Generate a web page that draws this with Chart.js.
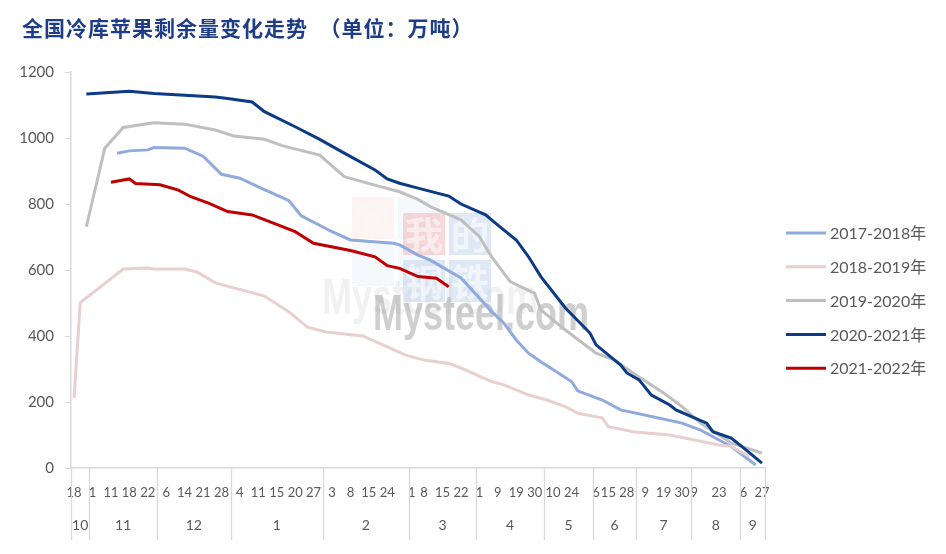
<!DOCTYPE html>
<html><head><meta charset="utf-8">
<script src="https://cdn.jsdelivr.net/npm/chart.js@4.4.1/dist/chart.umd.min.js"></script>
<style>html,body{margin:0;padding:0;background:#fff}#wrap{width:946px;height:554px;position:relative}</style>
</head><body><div id="wrap"><canvas id="c" width="946" height="554"></canvas></div>
<script>
const titleText = '全国冷库苹果剩余量变化走势  （单位：万吨）';
const monthLabels = ['10','11','12','1','2','3','4','5','6','7','8','9'];
// day tick labels per month (blank = date not shown on the axis)
const dayLabelsByMonth = [
  ['18','',''],
  ['1','','','11','','','18','','','22',''],
  ['','6','','','14','','','21','','','28',''],
  ['','4','','','11','','','15','','','20','','','27',''],
  ['','3','','','8','','','15','','','24','','',''],
  ['1','','8','','','15','','','22','',''],
  ['1','','','9','','','19','','','30',''],
  ['','10','','','24','','',''],
  ['6','','15','','','28',''],
  ['','9','','','19','','','30',''],
  ['9','','','','23','','',''],
  ['6','','','27']
];
const yTicks = [0,200,400,600,800,1000,1200];
const seriesNames = ['2017-2018年','2018-2019年','2019-2020年','2020-2021年','2021-2022年'];
// [category index, value] pairs
const s2017_2018 = [[7,954],[9,961],[12,964],[13,971],[18,969],[21,945],[24,890],[27,878],[30,852],[35,810],[37,764],[42,716],[45,691],[52,681],[53,676],[56,645],[58,630],[63,576],[68,474],[70,439],[72,388],[74,348],[76,322],[81,262],[82,234],[86,206],[89,176],[94,156],[99,136],[102,115],[107,65],[111,9]];
const s2018_2019 = [[0,212],[1,501],[8,603],[12,606],[13,603],[18,603],[20,594],[23,561],[31,521],[35,473],[38,427],[41,412],[47,400],[54,342],[57,327],[61,317],[63,303],[68,262],[70,252],[74,221],[77,206],[80,186],[82,166],[86,152],[87,125],[91,110],[97,100],[101,85],[105,70],[107,65],[110,34]];
const s2019_2020 = [[2,731],[5,969],[8,1032],[13,1046],[18,1042],[23,1024],[26,1006],[31,996],[34,976],[40,948],[44,883],[50,852],[53,837],[56,814],[58,792],[63,752],[66,701],[68,640],[71,565],[75,529],[76,479],[80,418],[85,348],[88,327],[91,288],[96,227],[99,186],[102,136],[107,76],[112,45]];
const s2020_2021 = [[2,1133],[9,1142],[13,1135],[23,1124],[25,1120],[29,1109],[31,1080],[36,1034],[40,996],[44,954],[49,903],[51,876],[53,863],[56,848],[61,824],[63,800],[67,767],[69,736],[72,691],[74,640],[76,580],[80,485],[84,409],[85,373],[89,312],[90,288],[92,267],[94,221],[97,191],[98,176],[103,136],[104,110],[107,91],[109,61],[112,15]];
const s2021_2022 = [[6,866],[9,876],[10,862],[14,858],[17,842],[19,822],[22,802],[25,777],[29,767],[36,716],[39,681],[45,659],[49,640],[51,613],[53,605],[56,580],[59,575],[61,549]];
const colors = ['#8FAADC','#E8D0D0','#BFBFBF','#0B3A86','#C00000'];

const dayLabels = [].concat(...dayLabelsByMonth);
const N = dayLabels.length;
function build(pairs){ const a = new Array(N).fill(null); pairs.forEach(p => { a[p[0]] = p[1]; }); return a; }
const allSeries = [s2017_2018, s2018_2019, s2019_2020, s2020_2021, s2021_2022];

const FONT = 'Lato, "Noto Sans CJK SC", sans-serif';
const GREY = '#D9D9D9';
const TXT = '#595959';

function drawWatermark(ctx, dx, dy, k){
  ctx.save();
  const bx = 403 + dx, by = 213 + dy, s = 42, g = 4;
  const cells = [['我','#F2B8B8',0,0],['的','#C4D6EC',1,0],['钢','#C4D6EC',0,1],['铁','#C4D6EC',1,1]];
  ctx.globalAlpha = 0.55 * k;
  cells.forEach(c => {
    const x = bx + c[2]*(s+g), y = by + c[3]*(s+g+1);
    ctx.fillStyle = c[1]; ctx.fillRect(x, y, s, s);
    ctx.fillStyle = '#ffffff';
    ctx.font = 'bold 38px "Noto Sans CJK SC"';
    ctx.textAlign = 'center'; ctx.textBaseline = 'middle';
    ctx.fillText(c[0], x + s/2, y + s/2 + 1);
  });
  ctx.globalAlpha = 0.5 * k;
  ctx.fillStyle = '#A0A0A0';
  ctx.font = 'bold 50px "Liberation Sans"';
  ctx.textAlign = 'left'; ctx.textBaseline = 'alphabetic';
  ctx.translate(373 + dx, 330 + dy);
  ctx.scale(0.72, 1);
  ctx.fillText('Mysteel.com', 0, 0);
  ctx.restore();
}

const decor = {
  id: 'decor',
  beforeDatasetsDraw(chart){
    const ctx = chart.ctx;
    drawWatermark(ctx, -51, -16, 0.3);
    drawWatermark(ctx, 0, 0, 1);
  },
  afterDraw(chart){
    const ctx = chart.ctx, xs = chart.scales.x;
    const half = (xs.getPixelForValue(1) - xs.getPixelForValue(0)) / 2;
    ctx.save();
    // month separators and month labels
    let start = 0;
    const bounds = [xs.getPixelForValue(0) - half];
    dayLabelsByMonth.forEach(m => { start += m.length; bounds.push(xs.getPixelForValue(start - 1) + half); });
    ctx.strokeStyle = GREY; ctx.lineWidth = 1.3;
    bounds.forEach(b => { ctx.beginPath(); ctx.moveTo(Math.round(b)+0.5, xs.top); ctx.lineTo(Math.round(b)+0.5, 540); ctx.stroke(); });
    ctx.fillStyle = TXT; ctx.font = '14px ' + FONT; ctx.textAlign = 'center'; ctx.textBaseline = 'middle';
    monthLabels.forEach((m, i) => ctx.fillText(m, (bounds[i] + bounds[i+1]) / 2, 525));
    // title
    ctx.fillStyle = '#1F3C88'; ctx.textAlign = 'left';
    ctx.font = 'bold 21px "Noto Sans CJK SC"';
    try { ctx.letterSpacing = '1px'; } catch(e) {}
    ctx.fillText(titleText, 22, 28);
    try { ctx.letterSpacing = '0px'; } catch(e) {}
    // legend
    ctx.font = '16px ' + FONT;
    chart.data.datasets.forEach((ds, i) => {
      const y = 233 + i * 33.8;
      ctx.strokeStyle = ds.borderColor; ctx.lineWidth = 3;
      ctx.beginPath(); ctx.moveTo(786, y); ctx.lineTo(826, y); ctx.stroke();
      ctx.fillStyle = TXT; ctx.fillText(ds.label, 830, y + 1);
    });
    ctx.restore();
  }
};

new Chart(document.getElementById('c'), {
  type: 'line',
  data: {
    labels: dayLabels,
    datasets: seriesNames.map((name, i) => ({
      label: name,
      data: build(allSeries[i]),
      borderColor: colors[i],
      backgroundColor: colors[i],
      borderWidth: 3,
      pointRadius: 0,
      tension: 0,
      spanGaps: true,
      order: 5 - i
    }))
  },
  options: {
    responsive: false,
    animation: false,
    devicePixelRatio: 1,
    layout: { padding: { top: 72, right: 181, bottom: 0, left: 0 } },
    plugins: { legend: { display: false }, title: { display: false }, tooltip: { enabled: false } },
    scales: {
      x: {
        type: 'category',
        offset: true,
        grid: { display: false, drawTicks: false },
        border: { display: true, color: GREY, width: 1.5 },
        ticks: { autoSkip: false, maxRotation: 0, minRotation: 0, color: TXT, font: { family: FONT, size: 13 }, padding: 17 },
        afterFit(s){ s.height = 86; }
      },
      y: {
        min: 0, max: 1200,
        afterBuildTicks(s){ s.ticks = yTicks.map(v => ({ value: v })); },
        grid: { drawOnChartArea: false, drawTicks: true, tickLength: 6, color: GREY },
        border: { display: true, color: GREY, width: 1.5 },
        ticks: { color: TXT, font: { family: FONT, size: 15 }, padding: 11, callback: v => String(v) },
        afterFit(s){ s.width = 71; }
      }
    }
  },
  plugins: [decor]
});
</script></body></html>
